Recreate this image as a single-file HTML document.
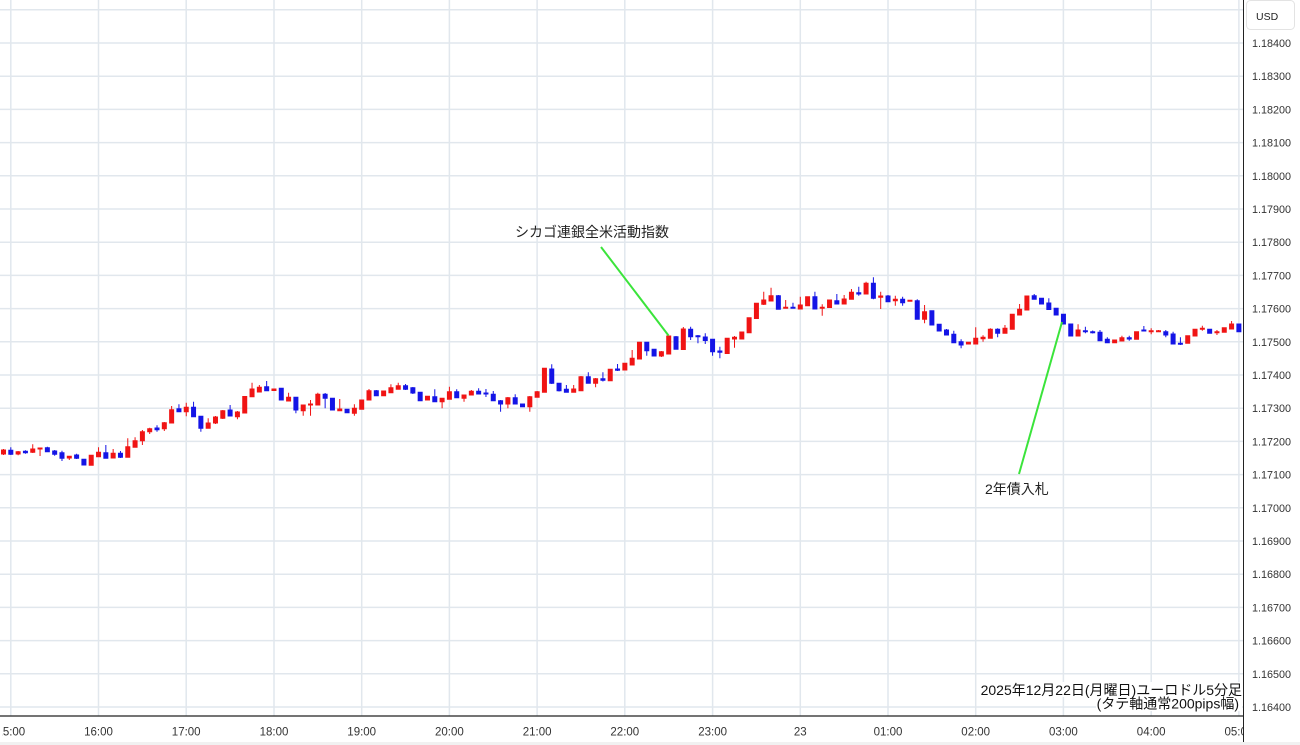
<!DOCTYPE html>
<html>
<head>
<meta charset="utf-8">
<style>
html,body{margin:0;padding:0;background:#fff;}
svg{display:block;}
.r{fill:#f01414;stroke:#f01414;stroke-width:1;}
.b{fill:#1414e6;stroke:#1414e6;stroke-width:1;}
.gl{stroke:#e1e7ed;stroke-width:1.5;}
.t{font-family:"Liberation Sans","Noto Sans CJK JP",sans-serif;}
</style>
</head>
<body>
<svg width="1300" height="745" viewBox="0 0 1300 745" xmlns="http://www.w3.org/2000/svg">
<defs>
<clipPath id="pc"><rect x="2" y="0" width="1241" height="745"/></clipPath>
</defs>
<rect x="0" y="0" width="1300" height="745" fill="#fff"/>
<!-- horizontal grid -->
<g class="gl">
<line x1="0" x2="1243" y1="9.8" y2="9.8"/>
<line x1="0" x2="1243" y1="43" y2="43"/>
<line x1="0" x2="1243" y1="76.2" y2="76.2"/>
<line x1="0" x2="1243" y1="109.4" y2="109.4"/>
<line x1="0" x2="1243" y1="142.6" y2="142.6"/>
<line x1="0" x2="1243" y1="175.8" y2="175.8"/>
<line x1="0" x2="1243" y1="209" y2="209"/>
<line x1="0" x2="1243" y1="242.2" y2="242.2"/>
<line x1="0" x2="1243" y1="275.4" y2="275.4"/>
<line x1="0" x2="1243" y1="308.6" y2="308.6"/>
<line x1="0" x2="1243" y1="341.8" y2="341.8"/>
<line x1="0" x2="1243" y1="375" y2="375"/>
<line x1="0" x2="1243" y1="408.2" y2="408.2"/>
<line x1="0" x2="1243" y1="441.4" y2="441.4"/>
<line x1="0" x2="1243" y1="474.6" y2="474.6"/>
<line x1="0" x2="1243" y1="507.8" y2="507.8"/>
<line x1="0" x2="1243" y1="541" y2="541"/>
<line x1="0" x2="1243" y1="574.2" y2="574.2"/>
<line x1="0" x2="1243" y1="607.4" y2="607.4"/>
<line x1="0" x2="1243" y1="640.6" y2="640.6"/>
<line x1="0" x2="1243" y1="673.8" y2="673.8"/>
<line x1="0" x2="1243" y1="707" y2="707"/>
</g>
<!-- vertical grid -->
<g class="gl">
<line y1="0" y2="716" x1="10.8" x2="10.8"/>
<line y1="0" y2="716" x1="98.5" x2="98.5"/>
<line y1="0" y2="716" x1="186.2" x2="186.2"/>
<line y1="0" y2="716" x1="274" x2="274"/>
<line y1="0" y2="716" x1="361.7" x2="361.7"/>
<line y1="0" y2="716" x1="449.4" x2="449.4"/>
<line y1="0" y2="716" x1="537.1" x2="537.1"/>
<line y1="0" y2="716" x1="624.8" x2="624.8"/>
<line y1="0" y2="716" x1="712.6" x2="712.6"/>
<line y1="0" y2="716" x1="800.3" x2="800.3"/>
<line y1="0" y2="716" x1="888" x2="888"/>
<line y1="0" y2="716" x1="975.7" x2="975.7"/>
<line y1="0" y2="716" x1="1063.4" x2="1063.4"/>
<line y1="0" y2="716" x1="1151.2" x2="1151.2"/>
<line y1="0" y2="716" x1="1238.9" x2="1238.9"/>
</g>

<!-- candles -->
<g>
<path class="r" transform="translate(3.5)" d="M0 449V455M-2 450H2V454H-2z"/>
<path class="b" transform="translate(10.81)" d="M0 447.3V455M-2 450.3H2V454.3H-2z"/>
<path class="r" transform="translate(18.12)" d="M0 451V455.3M-2 451.7H2V454H-2z"/>
<path class="b" transform="translate(25.43)" d="M0 450.3V453.7M-2 451.3H2V452.7H-2z"/>
<path class="r" transform="translate(32.74)" d="M0 444.3V453M-2 449H2V452.3H-2z"/>
<path class="r" transform="translate(40.05)" d="M0 447.5V456M-2 448H2V449H-2z"/>
<path class="b" transform="translate(47.36)" d="M0 446.7V452M-2 447.7H2V451.7H-2z"/>
<path class="b" transform="translate(54.67)" d="M0 450V455.7M-2 451H2V454.3H-2z"/>
<path class="b" transform="translate(61.98)" d="M0 450.7V461M-2 452.7H2V458.3H-2z"/>
<path class="r" transform="translate(69.29)" d="M0 456V460M-2 456.3H2V458H-2z"/>
<path class="b" transform="translate(76.6)" d="M0 453.7V459M-2 455H2V458.3H-2z"/>
<path class="b" transform="translate(83.91)" d="M0 459V465.5M-2 459.3H2V465H-2z"/>
<path class="r" transform="translate(91.22)" d="M0 455V465.5M-2 455.3H2V465.3H-2z"/>
<path class="r" transform="translate(98.53)" d="M0 447.3V457M-2 452.3H2V456.7H-2z"/>
<path class="b" transform="translate(105.84)" d="M0 445V458.5M-2 452.7H2V458.3H-2z"/>
<path class="r" transform="translate(113.15)" d="M0 449V458.5M-2 453.3H2V458H-2z"/>
<path class="b" transform="translate(120.46)" d="M0 451V458M-2 453.3H2V457.3H-2z"/>
<path class="r" transform="translate(127.77)" d="M0 438.3V457.5M-2 446.7H2V457.3H-2z"/>
<path class="r" transform="translate(135.08)" d="M0 437.3V447.5M-2 440.7H2V447.3H-2z"/>
<path class="r" transform="translate(142.39)" d="M0 430V445M-2 431.7H2V440.7H-2z"/>
<path class="r" transform="translate(149.7)" d="M0 427.7V434M-2 428.7H2V431.7H-2z"/>
<path class="b" transform="translate(157.01)" d="M0 425.3V431.7M-2 428H2V429.7H-2z"/>
<path class="r" transform="translate(164.32)" d="M0 422V431M-2 422.7H2V428.7H-2z"/>
<path class="r" transform="translate(171.63)" d="M0 406V423.5M-2 409.7H2V423H-2z"/>
<path class="b" transform="translate(178.94)" d="M0 404.3V412M-2 408.7H2V411.7H-2z"/>
<path class="r" transform="translate(186.25)" d="M0 402.7V416.3M-2 407.3H2V411.7H-2z"/>
<path class="b" transform="translate(193.56)" d="M0 401.7V417M-2 407.3H2V416.7H-2z"/>
<path class="b" transform="translate(200.87)" d="M0 416V431.7M-2 416.3H2V428.3H-2z"/>
<path class="r" transform="translate(208.18)" d="M0 418.3V428.5M-2 423H2V428.3H-2z"/>
<path class="r" transform="translate(215.49)" d="M0 416V424M-2 417H2V423H-2z"/>
<path class="r" transform="translate(222.8)" d="M0 410V419M-2 410.7H2V418.3H-2z"/>
<path class="b" transform="translate(230.11)" d="M0 405V416.5M-2 410H2V416H-2z"/>
<path class="r" transform="translate(237.42)" d="M0 411V419.3M-2 412H2V416.7H-2z"/>
<path class="r" transform="translate(244.73)" d="M0 396V413.5M-2 396.5H2V413H-2z"/>
<path class="r" transform="translate(252.04)" d="M0 382.7V397M-2 389H2V396.7H-2z"/>
<path class="r" transform="translate(259.35)" d="M0 385V392.5M-2 387.3H2V392H-2z"/>
<path class="b" transform="translate(266.66)" d="M0 381V391M-2 386.7H2V390.7H-2z"/>
<path class="r" transform="translate(273.97)" d="M0 388.5V391M-2 389H2V390.5H-2z"/>
<path class="b" transform="translate(281.28)" d="M0 388V400.5M-2 388.3H2V400H-2z"/>
<path class="r" transform="translate(288.59)" d="M0 392.7V401.5M-2 397.3H2V401H-2z"/>
<path class="b" transform="translate(295.9)" d="M0 397V413.3M-2 397.3H2V410H-2z"/>
<path class="r" transform="translate(303.21)" d="M0 404.5V415.7M-2 405H2V410.7H-2z"/>
<path class="r" transform="translate(310.52)" d="M0 400V415.7M-2 404H2V405H-2z"/>
<path class="r" transform="translate(317.83)" d="M0 392.7V405.5M-2 394.3H2V405H-2z"/>
<path class="b" transform="translate(325.14)" d="M0 393V408.3M-2 394.3H2V398.3H-2z"/>
<path class="b" transform="translate(332.45)" d="M0 398V410.5M-2 398.3H2V410H-2z"/>
<path class="r" transform="translate(339.76)" d="M0 399V411M-2 409H2V410.7H-2z"/>
<path class="b" transform="translate(347.07)" d="M0 409V413M-2 409.3H2V412.7H-2z"/>
<path class="r" transform="translate(354.38)" d="M0 404.3V415.7M-2 408.3H2V413.3H-2z"/>
<path class="r" transform="translate(361.69)" d="M0 399.5V409.5M-2 400H2V409.3H-2z"/>
<path class="r" transform="translate(369)" d="M0 389V400.5M-2 390.7H2V400H-2z"/>
<path class="b" transform="translate(376.31)" d="M0 390V396M-2 390.7H2V395.7H-2z"/>
<path class="r" transform="translate(383.62)" d="M0 390.5V396M-2 391H2V395.7H-2z"/>
<path class="r" transform="translate(390.93)" d="M0 384.3V393M-2 387.7H2V392.7H-2z"/>
<path class="r" transform="translate(398.24)" d="M0 382.7V389.5M-2 385.7H2V389.3H-2z"/>
<path class="b" transform="translate(405.55)" d="M0 384V390M-2 385.7H2V389.3H-2z"/>
<path class="b" transform="translate(412.86)" d="M0 387V394M-2 387.7H2V393H-2z"/>
<path class="b" transform="translate(420.17)" d="M0 392V401M-2 392.3H2V400.7H-2z"/>
<path class="r" transform="translate(427.48)" d="M0 396V400.5M-2 396.3H2V400H-2z"/>
<path class="b" transform="translate(434.79)" d="M0 389.3V402M-2 396.7H2V401.7H-2z"/>
<path class="r" transform="translate(442.1)" d="M0 398V408.3M-2 398.3H2V401.7H-2z"/>
<path class="r" transform="translate(449.41)" d="M0 386.7V399.5M-2 391.7H2V399.3H-2z"/>
<path class="b" transform="translate(456.72)" d="M0 389.3V398M-2 391.7H2V397.7H-2z"/>
<path class="r" transform="translate(464.03)" d="M0 394.5V401.7M-2 395H2V398.3H-2z"/>
<path class="r" transform="translate(471.34)" d="M0 390V395.5M-2 391.3H2V395H-2z"/>
<path class="b" transform="translate(478.65)" d="M0 388.3V394.5M-2 391.3H2V394H-2z"/>
<path class="b" transform="translate(485.96)" d="M0 389V397M-2 393H2V394H-2z"/>
<path class="b" transform="translate(493.27)" d="M0 391V401M-2 394.3H2V400.7H-2z"/>
<path class="b" transform="translate(500.58)" d="M0 400V411.7M-2 400.7H2V404H-2z"/>
<path class="r" transform="translate(507.89)" d="M0 397V408.3M-2 397.7H2V404H-2z"/>
<path class="b" transform="translate(515.2)" d="M0 394.3V404.5M-2 397.7H2V404H-2z"/>
<path class="b" transform="translate(522.51)" d="M0 403.5V407M-2 404H2V406.7H-2z"/>
<path class="r" transform="translate(529.82)" d="M0 396V411.7M-2 396.7H2V406.7H-2z"/>
<path class="r" transform="translate(537.13)" d="M0 391V397.5M-2 391.7H2V397.3H-2z"/>
<path class="r" transform="translate(544.44)" d="M0 368V392.5M-2 368.3H2V392.3H-2z"/>
<path class="b" transform="translate(551.75)" d="M0 364.3V384M-2 369H2V383.3H-2z"/>
<path class="b" transform="translate(559.06)" d="M0 383V391.5M-2 383.3H2V390.7H-2z"/>
<path class="b" transform="translate(566.37)" d="M0 385V392.5M-2 389.3H2V392.3H-2z"/>
<path class="r" transform="translate(573.68)" d="M0 385V392.5M-2 389H2V392.3H-2z"/>
<path class="r" transform="translate(580.99)" d="M0 376V391M-2 376.7H2V390.7H-2z"/>
<path class="b" transform="translate(588.3)" d="M0 372.3V383.5M-2 376.7H2V383.3H-2z"/>
<path class="r" transform="translate(595.61)" d="M0 378V387.3M-2 378.7H2V383.3H-2z"/>
<path class="b" transform="translate(602.92)" d="M0 372.3V381.5M-2 378.7H2V380.3H-2z"/>
<path class="r" transform="translate(610.23)" d="M0 369V381M-2 369.3H2V380.7H-2z"/>
<path class="b" transform="translate(617.54)" d="M0 364V371M-2 369H2V370.3H-2z"/>
<path class="r" transform="translate(624.85)" d="M0 363V370.5M-2 363.3H2V370H-2z"/>
<path class="r" transform="translate(632.16)" d="M0 350V365.5M-2 358.3H2V365H-2z"/>
<path class="r" transform="translate(639.47)" d="M0 342V359.5M-2 342.3H2V359H-2z"/>
<path class="b" transform="translate(646.78)" d="M0 342V355.7M-2 342.3H2V350.7H-2z"/>
<path class="b" transform="translate(654.09)" d="M0 349V356.5M-2 349.3H2V356H-2z"/>
<path class="r" transform="translate(661.4)" d="M0 351V357M-2 351.7H2V356H-2z"/>
<path class="r" transform="translate(668.71)" d="M0 335.5V354.5M-2 336H2V354H-2z"/>
<path class="b" transform="translate(676.02)" d="M0 336V349.5M-2 336.7H2V349.3H-2z"/>
<path class="r" transform="translate(683.33)" d="M0 327V350M-2 329H2V349.5H-2z"/>
<path class="b" transform="translate(690.64)" d="M0 326.7V340M-2 329.3H2V336.7H-2z"/>
<path class="b" transform="translate(697.95)" d="M0 335V343.3M-2 335.7H2V336.7H-2z"/>
<path class="b" transform="translate(705.26)" d="M0 333.3V344M-2 337H2V340.5H-2z"/>
<path class="b" transform="translate(712.57)" d="M0 339V355.7M-2 339.3H2V351.7H-2z"/>
<path class="b" transform="translate(719.88)" d="M0 346.7V358.3M-2 351H2V352.3H-2z"/>
<path class="r" transform="translate(727.19)" d="M0 338V354M-2 338.3H2V353.5H-2z"/>
<path class="r" transform="translate(734.5)" d="M0 336V347.7M-2 337.3H2V339H-2z"/>
<path class="r" transform="translate(741.81)" d="M0 331.5V339.5M-2 332H2V339H-2z"/>
<path class="r" transform="translate(749.12)" d="M0 317.5V333M-2 317.8H2V332.7H-2z"/>
<path class="r" transform="translate(756.43)" d="M0 303V319M-2 303.3H2V318.5H-2z"/>
<path class="r" transform="translate(763.74)" d="M0 291.7V305M-2 300H2V304.3H-2z"/>
<path class="r" transform="translate(771.05)" d="M0 287.7V301.5M-2 295.7H2V301H-2z"/>
<path class="b" transform="translate(778.36)" d="M0 295V309.5M-2 295.7H2V309.3H-2z"/>
<path class="r" transform="translate(785.67)" d="M0 300V308.5M-2 307.3H2V308.3H-2z"/>
<path class="b" transform="translate(792.98)" d="M0 302.7V308.7M-2 307.3H2V308.3H-2z"/>
<path class="r" transform="translate(800.29)" d="M0 296.7V309.5M-2 305H2V309H-2z"/>
<path class="r" transform="translate(807.6)" d="M0 296.5V306M-2 296.7H2V305.7H-2z"/>
<path class="b" transform="translate(814.91)" d="M0 291.7V309.5M-2 296.7H2V309H-2z"/>
<path class="r" transform="translate(822.22)" d="M0 304.3V315.7M-2 307.3H2V308.3H-2z"/>
<path class="r" transform="translate(829.53)" d="M0 299.5V308M-2 300H2V307.5H-2z"/>
<path class="b" transform="translate(836.84)" d="M0 294V304.5M-2 300.7H2V304H-2z"/>
<path class="r" transform="translate(844.15)" d="M0 295V304.5M-2 299H2V304H-2z"/>
<path class="r" transform="translate(851.46)" d="M0 289V299.5M-2 292.3H2V299.3H-2z"/>
<path class="b" transform="translate(858.77)" d="M0 286.7V295.7M-2 292.7H2V294H-2z"/>
<path class="r" transform="translate(866.08)" d="M0 281.7V294.5M-2 283.3H2V294H-2z"/>
<path class="b" transform="translate(873.39)" d="M0 277.3V299.3M-2 283.3H2V298.3H-2z"/>
<path class="r" transform="translate(880.7)" d="M0 291.7V309M-2 296H2V297.3H-2z"/>
<path class="b" transform="translate(888.01)" d="M0 295V302M-2 296H2V301.7H-2z"/>
<path class="r" transform="translate(895.32)" d="M0 295.7V305.7M-2 299.3H2V300.7H-2z"/>
<path class="b" transform="translate(902.63)" d="M0 296.7V305.7M-2 299.3H2V302.7H-2z"/>
<path class="r" transform="translate(909.94)" d="M0 300V301.7M-2 300.3H2V301.3H-2z"/>
<path class="b" transform="translate(917.25)" d="M0 299.3V319.5M-2 300.7H2V319.3H-2z"/>
<path class="r" transform="translate(924.56)" d="M0 305V323.3M-2 311.7H2V319.3H-2z"/>
<path class="b" transform="translate(931.87)" d="M0 310.5V325.5M-2 310.7H2V325H-2z"/>
<path class="b" transform="translate(939.18)" d="M0 324V331.5M-2 324.3H2V331H-2z"/>
<path class="b" transform="translate(946.49)" d="M0 329V335.5M-2 330H2V335H-2z"/>
<path class="b" transform="translate(953.8)" d="M0 330.7V343M-2 334.3H2V342.7H-2z"/>
<path class="b" transform="translate(961.11)" d="M0 339.3V348.3M-2 341.7H2V345H-2z"/>
<path class="r" transform="translate(968.42)" d="M0 342V344.5M-2 342.3H2V344H-2z"/>
<path class="r" transform="translate(975.73)" d="M0 327.3V344.5M-2 338.3H2V344H-2z"/>
<path class="r" transform="translate(983.04)" d="M0 335.3V341.7M-2 337.3H2V338.7H-2z"/>
<path class="r" transform="translate(990.35)" d="M0 328.3V338.5M-2 329.3H2V338.3H-2z"/>
<path class="b" transform="translate(997.66)" d="M0 328.3V337.3M-2 329.3H2V333.3H-2z"/>
<path class="r" transform="translate(1004.97)" d="M0 325V333.5M-2 328.3H2V333.3H-2z"/>
<path class="r" transform="translate(1012.28)" d="M0 314V329.5M-2 314.3H2V329.3H-2z"/>
<path class="r" transform="translate(1019.59)" d="M0 304V315.5M-2 309.3H2V315H-2z"/>
<path class="r" transform="translate(1026.9)" d="M0 295.5V310.5M-2 296H2V310H-2z"/>
<path class="b" transform="translate(1034.21)" d="M0 294V299.5M-2 295.7H2V299.3H-2z"/>
<path class="b" transform="translate(1041.52)" d="M0 298V304.5M-2 298.3H2V304H-2z"/>
<path class="b" transform="translate(1048.83)" d="M0 298.3V310M-2 303H2V309.5H-2z"/>
<path class="b" transform="translate(1056.14)" d="M0 308V315.5M-2 308.3H2V315H-2z"/>
<path class="b" transform="translate(1063.45)" d="M0 314V324.5M-2 314.3H2V324H-2z"/>
<path class="b" transform="translate(1070.76)" d="M0 323.5V336.5M-2 324H2V336H-2z"/>
<path class="r" transform="translate(1078.07)" d="M0 324.3V336.5M-2 330H2V336H-2z"/>
<path class="b" transform="translate(1085.38)" d="M0 326.7V333.3M-2 330.7H2V331.7H-2z"/>
<path class="b" transform="translate(1092.69)" d="M0 330.5V333.5M-2 331.7H2V332.7H-2z"/>
<path class="b" transform="translate(1100)" d="M0 330V341M-2 332.3H2V340.7H-2z"/>
<path class="b" transform="translate(1107.31)" d="M0 337.3V343M-2 339.3H2V342.7H-2z"/>
<path class="r" transform="translate(1114.62)" d="M0 339.5V343M-2 340H2V342.7H-2z"/>
<path class="r" transform="translate(1121.93)" d="M0 335.7V341.5M-2 337.7H2V341H-2z"/>
<path class="b" transform="translate(1129.24)" d="M0 335.7V340.7M-2 337.7H2V339H-2z"/>
<path class="r" transform="translate(1136.55)" d="M0 331.3V339.5M-2 331.7H2V339.3H-2z"/>
<path class="b" transform="translate(1143.86)" d="M0 326V331.5M-2 330H2V331H-2z"/>
<path class="r" transform="translate(1151.17)" d="M0 328.3V334.3M-2 330.7H2V331.7H-2z"/>
<path class="r" transform="translate(1158.48)" d="M0 330V332M-2 330.7H2V331.7H-2z"/>
<path class="b" transform="translate(1165.79)" d="M0 330V337.3M-2 331.7H2V335H-2z"/>
<path class="b" transform="translate(1173.1)" d="M0 331.7V344.5M-2 334H2V344H-2z"/>
<path class="b" transform="translate(1180.41)" d="M0 337.3V345M-2 343.3H2V344.3H-2z"/>
<path class="r" transform="translate(1187.72)" d="M0 335.5V343.5M-2 335.7H2V343.3H-2z"/>
<path class="r" transform="translate(1195.03)" d="M0 329V336.5M-2 329.3H2V336H-2z"/>
<path class="r" transform="translate(1202.34)" d="M0 325.7V330.7M-2 328.3H2V329.3H-2z"/>
<path class="b" transform="translate(1209.65)" d="M0 329V333.5M-2 329.3H2V333.3H-2z"/>
<path class="r" transform="translate(1216.96)" d="M0 330V335M-2 331.7H2V332.7H-2z"/>
<path class="r" transform="translate(1224.27)" d="M0 327.5V332.5M-2 327.7H2V332.3H-2z"/>
<path class="r" transform="translate(1231.58)" d="M0 321V329.5M-2 324H2V329H-2z"/>
<path class="b" transform="translate(1238.89)" d="M0 323.5V332M-2 324H2V331.7H-2z"/>
</g>

<!-- annotations -->
<line x1="601" y1="247" x2="668.5" y2="335.5" stroke="#3be43b" stroke-width="2"/>
<line x1="1062" y1="322" x2="1019" y2="474" stroke="#3be43b" stroke-width="2"/>
<text class="t" x="515" y="237" font-size="14" fill="#222">シカゴ連銀全米活動指数</text>
<text class="t" x="985" y="494" font-size="14" fill="#222">2年債入札</text>

<!-- bottom-right caption -->
<rect x="982" y="682" width="261" height="15" fill="#fff"/>
<rect x="1096" y="697" width="146" height="14" fill="#fff"/>
<text class="t" x="1242" y="695" font-size="14" fill="#111" text-anchor="end">2025年12月22日(月曜日)ユーロドル5分足</text>
<text class="t" x="1239" y="708.5" font-size="14" fill="#111" text-anchor="end">(タテ軸通常200pips幅)</text>

<!-- axes -->
<line x1="0" x2="1243" y1="716" y2="716" stroke="#222" stroke-width="1.2"/>
<line x1="1243.5" x2="1243.5" y1="0" y2="742" stroke="#222" stroke-width="1"/>
<rect x="0" y="742" width="1300" height="3" fill="#f1f1f1"/>

<!-- time labels -->
<g class="t" font-size="11.5" fill="#333" text-anchor="middle" clip-path="url(#pc)">
<text x="10.8" y="735.5">15:00</text>
<text x="98.5" y="735.5">16:00</text>
<text x="186.2" y="735.5">17:00</text>
<text x="274" y="735.5">18:00</text>
<text x="361.7" y="735.5">19:00</text>
<text x="449.4" y="735.5">20:00</text>
<text x="537.1" y="735.5">21:00</text>
<text x="624.8" y="735.5">22:00</text>
<text x="712.6" y="735.5">23:00</text>
<text x="800.3" y="735.5">23</text>
<text x="888" y="735.5">01:00</text>
<text x="975.7" y="735.5">02:00</text>
<text x="1063.4" y="735.5">03:00</text>
<text x="1151.2" y="735.5">04:00</text>
<text x="1238.9" y="735.5">05:00</text>
</g>

<!-- price labels -->
<rect x="1246.5" y="0.5" width="48" height="29" rx="4" fill="#fff" stroke="#e3e3e3"/>
<text class="t" x="1256" y="20" font-size="10.5" fill="#222">USD</text>
<g class="t" font-size="10.8" fill="#333">
<text x="1252" y="47">1.18400</text>
<text x="1252" y="80.2">1.18300</text>
<text x="1252" y="113.4">1.18200</text>
<text x="1252" y="146.6">1.18100</text>
<text x="1252" y="179.8">1.18000</text>
<text x="1252" y="213">1.17900</text>
<text x="1252" y="246.2">1.17800</text>
<text x="1252" y="279.4">1.17700</text>
<text x="1252" y="312.6">1.17600</text>
<text x="1252" y="345.8">1.17500</text>
<text x="1252" y="379">1.17400</text>
<text x="1252" y="412.2">1.17300</text>
<text x="1252" y="445.4">1.17200</text>
<text x="1252" y="478.6">1.17100</text>
<text x="1252" y="511.8">1.17000</text>
<text x="1252" y="545">1.16900</text>
<text x="1252" y="578.2">1.16800</text>
<text x="1252" y="611.4">1.16700</text>
<text x="1252" y="644.6">1.16600</text>
<text x="1252" y="677.8">1.16500</text>
<text x="1252" y="711">1.16400</text>
</g>
</svg>
</body>
</html>
